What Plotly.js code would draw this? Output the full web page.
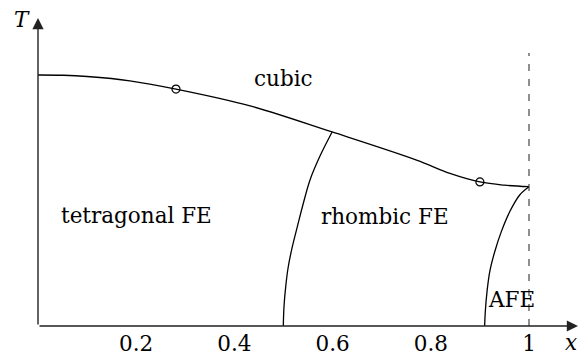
<!DOCTYPE html>
<html>
<head>
<meta charset="utf-8">
<script src="https://cdn.plot.ly/plotly-3.0.1.min.js"></script>
<style>html,body{margin:0;padding:0;background:#fff;}#chart{width:580px;height:354px;}</style>
</head>
<body>
<div id="chart"></div>
<script>
// cubic / FE transition line
const cubicX = [0, 0.052, 0.1, 0.187, 0.281, 0.432, 0.599, 0.771, 0.839, 0.9, 0.95, 1.0];
const cubicT = [1.0, 0.999, 0.994, 0.977, 0.944, 0.877, 0.773, 0.661, 0.608, 0.574, 0.561, 0.555];
// tetragonal / rhombic boundary
const rhombX = [0.4996, 0.5010, 0.5045, 0.5098, 0.5180, 0.5282, 0.5404, 0.5540, 0.575, 0.599];
const rhombT = [0, 0.077, 0.157, 0.237, 0.316, 0.396, 0.489, 0.582, 0.680, 0.773];
// rhombic / AFE boundary
const afeX = [0.9097, 0.911, 0.9145, 0.920, 0.9302, 0.9436, 0.9607, 0.981, 1.0];
const afeT = [0, 0.057, 0.137, 0.216, 0.296, 0.376, 0.455, 0.522, 0.555];
// marked points
const ptX = [0.281, 0.9];
const ptT = [0.944, 0.574];
// dashed line x = 1
const dashX = [1, 1];
const dashT = [0, 1.088];
// ticks
const tickVals = [0.2, 0.4, 0.6, 0.8, 1];
const tickText = ['0.2', '0.4', '0.6', '0.8', '1'];
// region labels
const labelText = ['cubic', 'tetragonal FE', 'rhombic FE', 'AFE'];
const labelX = [0.499, 0.2016, 0.7067, 0.965];
const labelT = [0.988, 0.442, 0.438, 0.104];

const FONT = 'DejaVu Serif';
const lineStyle = {color: '#000', width: 1.3};

const traces = [
  {x: cubicX, y: cubicT, mode: 'lines', line: Object.assign({shape: 'spline', smoothing: 1}, lineStyle), hoverinfo: 'skip'},
  {x: rhombX, y: rhombT, mode: 'lines', line: Object.assign({shape: 'spline', smoothing: 1}, lineStyle), hoverinfo: 'skip'},
  {x: afeX, y: afeT, mode: 'lines', line: Object.assign({shape: 'spline', smoothing: 1}, lineStyle), hoverinfo: 'skip'},
  {x: dashX, y: dashT, mode: 'lines', line: {color: '#333', width: 1.1, dash: '7px,8px'}, hoverinfo: 'skip'},
  {x: ptX, y: ptT, mode: 'markers', marker: {symbol: 'circle-open', size: 8, color: '#000', line: {width: 1.2, color: '#000'}}, hoverinfo: 'skip', cliponaxis: false}
];

const annotations = labelText.map((t, i) => ({
  x: labelX[i], y: labelT[i], xref: 'x', yref: 'y', text: t, showarrow: false,
  font: {family: FONT, size: 21.5, color: '#000'}, xanchor: 'center', yanchor: 'middle'
}));
// axes with arrows
annotations.push({x: 1.0998, y: 0, ax: 0, ay: 0, xref: 'x', yref: 'y', axref: 'x', ayref: 'y',
  text: '', showarrow: true, arrowhead: 2, arrowsize: 1.6, arrowwidth: 1.4, arrowcolor: '#222', standoff: 0});
annotations.push({x: 0, y: 1.227, ax: 0, ay: 0, xref: 'x', yref: 'y', axref: 'x', ayref: 'y',
  text: '', showarrow: true, arrowhead: 2, arrowsize: 1.6, arrowwidth: 1.4, arrowcolor: '#222', standoff: 0});
annotations.push({x: -0.0295, y: 0.940, xref: 'paper', yref: 'paper', text: '<i>T</i>', showarrow: false,
  font: {family: FONT, size: 21.5, color: '#000'}, xanchor: 'center', yanchor: 'middle'});
annotations.push({x: 0.998, y: -0.052, xref: 'paper', yref: 'paper', text: '<i>x</i>', showarrow: false,
  font: {family: FONT, size: 21.5, color: '#000'}, xanchor: 'right', yanchor: 'middle'});

const layout = {
  width: 580, height: 354,
  margin: {l: 38, r: 0, t: 0, b: 28, pad: 0},
  paper_bgcolor: '#fff', plot_bgcolor: '#fff',
  showlegend: false,
  xaxis: {range: [0, 542 / 491], showgrid: false, zeroline: false, showline: false, ticks: '',
    tickvals: tickVals, ticktext: tickText, tickfont: {family: FONT, size: 21.5, color: '#000'},
    ticklabelstandoff: 2, fixedrange: true},
  yaxis: {range: [0, 326 / 251], showgrid: false, zeroline: false, showline: false, ticks: '',
    showticklabels: false, fixedrange: true},
  annotations: annotations
};

Plotly.newPlot('chart', traces, layout, {staticPlot: true, displayModeBar: false});
</script>
</body>
</html>
